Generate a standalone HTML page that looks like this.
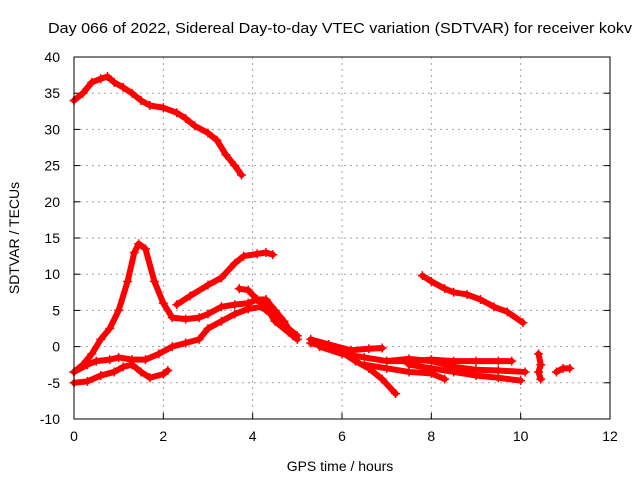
<!DOCTYPE html>
<html><head><meta charset="utf-8"><style>
body{margin:0;background:#fff;}
svg{display:block;font-family:"Liberation Sans",sans-serif;}
</style></head><body>
<svg id="chart" width="640" height="480" xmlns="http://www.w3.org/2000/svg">
<rect width="640" height="480" fill="#fff"/>
<text x="340" y="33" font-size="15" text-anchor="middle" textLength="584" lengthAdjust="spacingAndGlyphs">Day 066 of 2022, Sidereal Day-to-day VTEC variation (SDTVAR) for receiver kokv</text>
<g id="grid"></g>
<g id="axes"></g>
<g id="series"></g>
<rect x="74" y="57" width="536" height="362" fill="none" stroke="#000" stroke-width="1"/>
<text x="340" y="471" font-size="14" text-anchor="middle">GPS time / hours</text>
<text transform="translate(19,238) rotate(-90)" font-size="14" text-anchor="middle">SDTVAR / TECUs</text>
</svg>
<script>
const xTicks=[0,2,4,6,8,10,12];
const yTicks=[-10,-5,0,5,10,15,20,25,30,35,40];
const trackA=[[0,34],[0.2,35],[0.4,36.5],[0.6,37],[0.75,37.3],[0.9,36.5],[1.1,35.8],[1.3,35],[1.5,34],[1.7,33.3],[2.0,33],[2.3,32.3],[2.5,31.5],[2.7,30.5],[3.0,29.5],[3.2,28.5],[3.4,26.5],[3.6,25],[3.75,23.7]];
const trackB=[[0,-3.5],[0.2,-2.5],[0.4,-1],[0.6,1],[0.8,2.5],[1.0,5],[1.2,9],[1.35,13],[1.45,14.2],[1.6,13.5],[1.8,9],[2.0,6],[2.2,4],[2.5,3.8],[2.8,4],[3.0,4.5],[3.3,5.5],[3.6,5.8],[3.9,6],[4.1,6.5],[4.3,6.5],[4.5,5],[4.7,3.5],[4.9,1.5]];
const trackC=[[2.3,5.8],[2.6,7],[3.0,8.5],[3.3,9.5],[3.6,11.5],[3.8,12.5],[4.1,12.8],[4.3,13],[4.45,12.7]];
const trackD=[[0,-5],[0.3,-4.8],[0.6,-4],[0.9,-3.5],[1.1,-2.8],[1.3,-2.5],[1.5,-3.5],[1.7,-4.3],[2.0,-3.8],[2.1,-3.3]];
const trackE=[[0,-3.5],[0.3,-2.5],[0.5,-2],[0.8,-1.8],[1.0,-1.5],[1.3,-1.8],[1.6,-1.8],[1.9,-1],[2.2,0],[2.5,0.5],[2.8,1],[3.0,2.5],[3.3,3.5],[3.6,4.5],[3.9,5.2],[4.2,5.5],[4.4,4.5],[4.7,3],[5.0,1.5]];
const trackF=[[3.7,8],[3.9,7.8],[4.1,6.5],[4.3,5.5],[4.5,3.5],[4.8,2],[5.0,1]];
const trackG=[[7.8,9.8],[8.0,9],[8.3,8],[8.5,7.5],[8.8,7.2],[9.1,6.5],[9.4,5.5],[9.7,4.8],[10.05,3.3]];
const trackH=[[5.3,0.5],[5.6,0],[6.0,-0.8],[6.3,-2],[6.6,-3],[6.9,-4.5],[7.2,-6.5]];
const trackI=[[5.3,1],[5.7,0.3],[6.2,-0.5],[6.6,-0.3],[6.9,-0.2]];
const trackJ=[[5.5,0],[6.0,-1],[6.5,-1.5],[7.0,-2],[7.5,-2],[8.0,-1.8],[8.5,-2],[9.0,-2],[9.5,-2],[9.8,-2]];
const trackK=[[6.5,-2.5],[7.0,-3],[7.5,-3.5],[8.0,-3.7],[8.3,-4.5]];
const trackL=[[7.5,-2.5],[8.0,-3],[8.5,-3.5],[9.0,-4],[9.5,-4.3],[10.0,-4.7]];
const trackM=[[7.0,-2],[7.5,-1.7],[8.0,-2],[8.5,-2.8],[9.0,-3.2],[9.5,-3.3],[10.1,-3.5]];
const trackN=[[10.4,-1],[10.45,-2.5],[10.4,-3.5],[10.45,-4.5]];
const trackO=[[10.8,-3.5],[10.95,-3],[11.1,-3]];
const tracks=[trackA,trackB,trackC,trackD,trackE,trackF,trackG,trackH,trackI,trackJ,trackK,trackL,trackM,trackN,trackO];
const X0=74,X1=610,Y0=419,Y1=57;
const sx=v=>X0+(v-0)/(12-0)*(X1-X0);
const sy=v=>Y0-(v+10)/(40+10)*(Y0-Y1);
const NS="http://www.w3.org/2000/svg";
const grid=document.getElementById('grid'),axes=document.getElementById('axes'),ser=document.getElementById('series');
function mk(t,a,p){const e=document.createElementNS(NS,t);for(const k in a)e.setAttribute(k,a[k]);p.appendChild(e);return e;}
xTicks.forEach(t=>{const x=sx(t);
 if(t>0&&t<12){const g=mk('line',{x1:x,x2:x,y1:Y1,y2:Y0,stroke:'#a0a0a0','stroke-dasharray':'2,4'},grid);
 }
 const tk=mk('line',{x1:x,x2:x,y1:Y0,y2:Y0-6,stroke:'#000'},axes);
 
 const l=mk('text',{x:x,y:Y0+22,'font-size':14,'text-anchor':'middle'},axes);l.textContent=t;
 });
yTicks.forEach(t=>{const y=sy(t);
 if(t>-10&&t<40){const g=mk('line',{x1:X0,x2:X1,y1:y,y2:y,stroke:'#a0a0a0','stroke-dasharray':'2,4'},grid);
 }
 const tk=mk('line',{x1:X0,x2:X0+6,y1:y,y2:y,stroke:'#000'},axes);
 
 const tk2=mk('line',{x1:X1,x2:X1-6,y1:y,y2:y,stroke:'#000'},axes);
 
 const l=mk('text',{x:X0-14,y:y+5,'font-size':14,'text-anchor':'end'},axes);l.textContent=t;
 });
tracks.forEach((tr,i)=>{
 const p=mk('polyline',{points:tr.map(d=>sx(d[0])+','+sy(d[1])).join(' '),fill:'none',stroke:'#ff0000','stroke-width':6,'stroke-linejoin':'round','stroke-linecap':'round'},ser);
 
 
 tr.forEach(d=>{const x=sx(d[0]),y=sy(d[1]);
  const m=mk('path',{d:`M${x-4.5},${y}H${x+4.5}M${x},${y-4.5}V${y+4.5}`,stroke:'#ff0000','stroke-width':1.5},ser);
  
  });
});
</script>
</body></html>
